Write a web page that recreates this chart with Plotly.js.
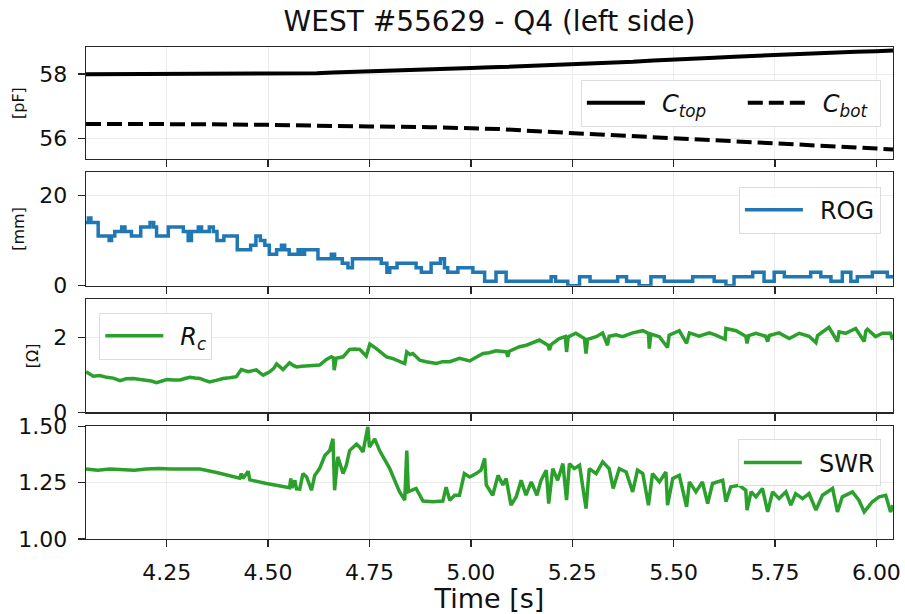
<!DOCTYPE html>
<html>
<head>
<meta charset="utf-8">
<script src="https://cdn.plot.ly/plotly-3.0.1.min.js"></script>
<style>html,body{margin:0;padding:0;background:#fff;}#chart{width:905px;height:614px;}</style>
</head>
<body>
<div id="chart"></div>
<script>
// ---- Data ----
const ctopT = [4.051,4.60,4.62,4.66,4.70,4.75,4.80,4.85,4.90,4.95,5.00,5.05,5.10,5.15,5.20,5.25,5.30,5.35,5.40,5.45,5.50,5.55,5.60,5.65,5.70,5.75,5.80,5.85,5.90,5.95,6.00,6.041];
const ctopV = [58.00,58.00,58.03,58.05,58.07,58.09,58.11,58.13,58.15,58.17,58.19,58.21,58.23,58.25,58.27,58.29,58.32,58.35,58.38,58.42,58.46,58.48,58.51,58.54,58.57,58.59,58.62,58.65,58.67,58.69,58.71,58.73];

const cbotT = [4.051,4.20,4.35,4.50,4.60,4.75,4.90,5.00,5.07,5.15,5.25,5.35,5.45,5.50,5.60,5.70,5.75,5.85,5.95,6.041];
const cbotV = [56.46,56.47,56.45,56.43,56.40,56.38,56.36,56.34,56.30,56.24,56.18,56.12,56.06,56.02,55.97,55.91,55.87,55.80,55.73,55.67];

const rogT = [4.051,4.057,4.063,4.081,4.108,4.114,4.122,4.139,4.147,4.163,4.186,4.209,4.218,4.225,4.254,4.291,4.303,4.311,4.328,4.336,4.355,4.365,4.374,4.391,4.424,4.457,4.470,4.481,4.492,4.503,4.521,4.533,4.541,4.552,4.574,4.582,4.590,4.623,4.656,4.664,4.683,4.697,4.708,4.779,4.793,4.800,4.818,4.865,4.878,4.902,4.925,4.935,4.943,4.968,5.005,5.034,5.062,5.087,5.198,5.209,5.239,5.268,5.294,5.362,5.384,5.415,5.444,5.477,5.547,5.600,5.629,5.649,5.695,5.723,5.748,5.773,5.838,5.863,5.888,5.916,5.937,5.953,5.990,6.027,6.041];
const rogV = [14,15,14,11,10,11,12,13,12,11,13,14,13,11,13,12,10,12,13,12,13,12,10,11,8,9,11,10,9,7,8,9,8,7,8,7,8,6,7,6,5,4,6,5,3,4,5,4,3,5,6,4,3,4,3,1,3,1,2,1,0,2,1,2,1,0,2,1,2,1,0,2,3,1,3,2,3,2,1,3,1,2,3,2,2];

const rcT = [4.051,4.060,4.069,4.085,4.102,4.118,4.135,4.150,4.168,4.185,4.200,4.212,4.225,4.238,4.250,4.266,4.283,4.295,4.307,4.320,4.332,4.344,4.356,4.372,4.389,4.405,4.422,4.434,4.445,4.451,4.462,4.471,4.480,4.488,4.504,4.514,4.521,4.530,4.537,4.545,4.553,4.562,4.570,4.583,4.595,4.611,4.627,4.644,4.656,4.661,4.663,4.666,4.668,4.685,4.701,4.714,4.726,4.742,4.751,4.767,4.780,4.792,4.808,4.824,4.837,4.842,4.850,4.857,4.874,4.890,4.903,4.915,4.930,4.948,4.972,4.997,5.012,5.030,5.045,5.062,5.088,5.091,5.095,5.108,5.120,5.137,5.153,5.169,5.190,5.194,5.198,5.218,5.233,5.236,5.240,5.259,5.280,5.284,5.288,5.309,5.325,5.337,5.341,5.358,5.374,5.399,5.424,5.438,5.440,5.444,5.465,5.485,5.489,5.514,5.532,5.539,5.563,5.588,5.604,5.627,5.629,5.654,5.678,5.681,5.685,5.703,5.727,5.732,5.736,5.760,5.785,5.810,5.834,5.851,5.855,5.883,5.904,5.908,5.924,5.949,5.970,5.974,5.978,5.998,6.015,6.035,6.040];
const rcV = [1.09,1.02,0.97,0.99,0.94,0.92,0.85,0.90,0.91,0.88,0.87,0.84,0.80,0.85,0.88,0.87,0.87,0.91,0.94,0.92,0.91,0.86,0.82,0.86,0.91,0.93,0.96,1.15,1.10,1.09,1.12,1.14,1.06,1.00,1.09,1.18,1.30,1.22,1.15,1.24,1.33,1.26,1.22,1.24,1.24,1.26,1.27,1.42,1.49,1.46,1.13,1.40,1.45,1.49,1.69,1.70,1.69,1.51,1.83,1.71,1.60,1.49,1.44,1.38,1.31,1.62,1.55,1.58,1.40,1.36,1.34,1.31,1.36,1.36,1.45,1.38,1.47,1.58,1.60,1.65,1.62,1.49,1.64,1.70,1.76,1.80,1.87,1.94,1.80,1.67,1.82,1.98,2.03,1.62,2.02,2.12,1.98,1.58,1.96,2.03,2.13,1.80,2.04,2.08,2.03,2.13,2.19,2.12,1.71,2.10,2.03,1.74,2.07,2.19,1.85,2.13,2.04,2.13,2.07,1.96,2.25,2.19,2.04,1.85,2.06,2.12,2.04,1.90,2.06,2.13,1.98,2.12,2.04,1.87,2.06,2.28,1.90,2.16,2.12,2.25,1.90,2.18,2.23,2.03,2.12,2.12,1.95];

const swrT = [4.051,4.080,4.110,4.140,4.170,4.200,4.230,4.260,4.290,4.320,4.332,4.373,4.414,4.430,4.434,4.438,4.451,4.455,4.496,4.537,4.553,4.556,4.559,4.566,4.570,4.578,4.586,4.595,4.607,4.615,4.627,4.640,4.652,4.660,4.664,4.672,4.685,4.693,4.701,4.718,4.726,4.734,4.746,4.750,4.763,4.775,4.800,4.824,4.837,4.842,4.846,4.865,4.882,4.906,4.931,4.939,4.948,4.960,4.972,4.984,4.997,5.013,5.025,5.034,5.038,5.054,5.067,5.079,5.087,5.099,5.112,5.124,5.136,5.149,5.163,5.173,5.186,5.192,5.202,5.214,5.227,5.236,5.243,5.255,5.268,5.284,5.292,5.309,5.325,5.341,5.351,5.366,5.383,5.399,5.411,5.424,5.438,5.448,5.465,5.481,5.485,5.498,5.514,5.532,5.539,5.555,5.571,5.584,5.596,5.621,5.629,5.641,5.662,5.678,5.681,5.691,5.703,5.719,5.732,5.744,5.760,5.777,5.789,5.801,5.818,5.834,5.851,5.867,5.892,5.904,5.916,5.941,5.957,5.970,5.990,6.007,6.023,6.035,6.041];
const swrV = [1.310,1.305,1.310,1.308,1.305,1.310,1.312,1.310,1.310,1.311,1.310,1.295,1.275,1.270,1.290,1.268,1.300,1.262,1.246,1.231,1.227,1.268,1.226,1.260,1.222,1.221,1.290,1.275,1.216,1.282,1.312,1.370,1.392,1.444,1.216,1.364,1.290,1.327,1.392,1.420,1.407,1.386,1.497,1.407,1.444,1.392,1.312,1.210,1.172,1.392,1.210,1.224,1.168,1.165,1.168,1.230,1.172,1.194,1.194,1.290,1.275,1.290,1.305,1.357,1.240,1.194,1.282,1.240,1.268,1.150,1.187,1.260,1.194,1.253,1.194,1.260,1.305,1.157,1.312,1.260,1.334,1.172,1.334,1.312,1.327,1.135,1.312,1.290,1.342,1.312,1.224,1.312,1.297,1.209,1.305,1.290,1.150,1.290,1.253,1.297,1.150,1.268,1.282,1.143,1.253,1.209,1.253,1.157,1.246,1.260,1.165,1.231,1.238,1.216,1.128,1.209,1.187,1.224,1.120,1.209,1.179,1.209,1.150,1.201,1.179,1.201,1.128,1.194,1.224,1.120,1.187,1.209,1.172,1.120,1.165,1.187,1.194,1.120,1.150];

const xTicks = [4.25,4.50,4.75,5.00,5.25,5.50,5.75,6.00];
const titleText = 'WEST #55629 - Q4 (left side)';
const names = ['<i>C</i><sub><i>top</i></sub>', '<i>C</i><sub><i>bot</i></sub>', 'ROG', '<i>R</i><sub><i>c</i></sub>', 'SWR'];

// ---- Styling ----
const FONT = 'DejaVu Sans, sans-serif';
const INK = '#262626';
const GRID = '#ebebeb';
const xRange = [4.051, 6.041];
const PAD = '\u2002';

function xaxis(extra) {
  return Object.assign({
    range: xRange, tickvals: xTicks, tickformat: '.2f',
    showgrid: true, gridcolor: GRID, gridwidth: 1, zeroline: false,
    showline: true, mirror: true, linecolor: INK, linewidth: 1.3,
    ticks: 'outside', ticklen: 7, tickwidth: 1.3, tickcolor: INK,
    tickfont: {family: FONT, size: 22, color: '#111'},
    showticklabels: false
  }, extra);
}
function yaxis(extra) {
  return Object.assign({
    showgrid: true, gridcolor: GRID, gridwidth: 1, zeroline: false,
    showline: true, mirror: true, linecolor: INK, linewidth: 1.3,
    ticks: 'outside', ticklen: 7, tickwidth: 1.3, tickcolor: INK,
    tickfont: {family: FONT, size: 22, color: '#111'},
    ticklabelstandoff: 6
  }, extra);
}
function ytitle(t) { return {text: t, font: {family: FONT, size: 16, color: '#111'}, standoff: 10}; }
const legendBase = {
  font: {family: FONT, size: 24, color: '#111'},
  bgcolor: 'rgba(255,255,255,0.85)', bordercolor: '#dcdcdc', borderwidth: 1,
  itemwidth: 58
};

const traces = [
  {x: ctopT, y: ctopV, xaxis: 'x', yaxis: 'y', mode: 'lines', name: PAD + names[0] + '\u2003\u00a0',
   line: {color: '#000', width: 4}, legend: 'legend'},
  {x: cbotT, y: cbotV, xaxis: 'x', yaxis: 'y', mode: 'lines', name: PAD + names[1] + '\u00a0',
   line: {color: '#000', width: 4, dash: '15px,6px'}, legend: 'legend'},
  {x: rogT, y: rogV, xaxis: 'x2', yaxis: 'y2', mode: 'lines', name: PAD + names[2],
   line: {color: '#1f77b4', width: 3.5, shape: 'hv'}, legend: 'legend2'},
  {x: rcT, y: rcV, xaxis: 'x3', yaxis: 'y3', mode: 'lines', name: PAD + names[3],
   line: {color: '#2ca02c', width: 3.5}, legend: 'legend3'},
  {x: swrT, y: swrV, xaxis: 'x4', yaxis: 'y4', mode: 'lines', name: PAD + names[4],
   line: {color: '#2ca02c', width: 3.5}, legend: 'legend4'}
];

const layout = {
  width: 905, height: 614,
  margin: {l: 86, r: 12, t: 47, b: 75},
  paper_bgcolor: '#fff', plot_bgcolor: '#fff',
  font: {family: FONT, color: '#111'},
  title: {text: titleText, font: {family: FONT, size: 28, color: '#111'},
          x: 0.5, xref: 'paper', y: 0.966, yref: 'container', yanchor: 'middle'},
  showlegend: true,
  xaxis: xaxis({anchor: 'y'}),
  xaxis2: xaxis({anchor: 'y2', matches: 'x'}),
  xaxis3: xaxis({anchor: 'y3', matches: 'x'}),
  xaxis4: xaxis({anchor: 'y4', matches: 'x', showticklabels: true, ticklabelstandoff: 6,
                 title: {text: 'Time [s]', font: {family: FONT, size: 27, color: '#111'}, standoff: 4}}),
  yaxis: yaxis({domain: [0.7721, 1], range: [55.37, 58.84], tickvals: [56, 58], title: ytitle('[pF]')}),
  yaxis2: yaxis({domain: [0.5149, 0.7456], range: [0, 25.2], tickvals: [0, 20], title: ytitle('[mm]')}),
  yaxis3: yaxis({domain: [0.2572, 0.4872], range: [0, 3.03], tickvals: [0, 2], title: ytitle('[Ω]')}),
  yaxis4: yaxis({domain: [0, 0.2293], range: [1.0, 1.5], tickvals: [1.0, 1.25, 1.5], tickformat: '.2f'}),
  legend: Object.assign({}, legendBase, {orientation: 'h', x: 0.985, xanchor: 'right', y: 0.9335, yanchor: 'top'}),
  legend2: Object.assign({}, legendBase, {x: 0.985, xanchor: 'right', y: 0.7163, yanchor: 'top'}),
  legend3: Object.assign({}, legendBase, {x: 0.0165, xanchor: 'left', y: 0.46, yanchor: 'top'}),
  legend4: Object.assign({}, legendBase, {x: 0.985, xanchor: 'right', y: 0.2023, yanchor: 'top'})
};

Plotly.newPlot('chart', traces, layout, {staticPlot: true, displayModeBar: false});
</script>
</body>
</html>
